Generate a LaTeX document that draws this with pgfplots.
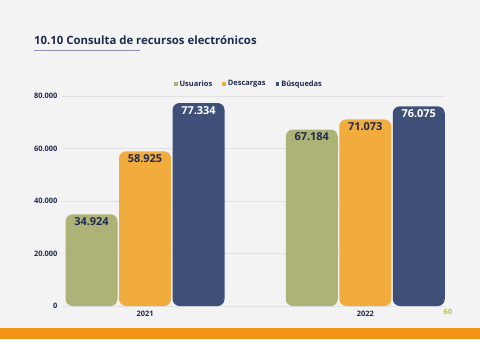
\documentclass[border=0pt]{standalone}
\usepackage{fontspec}
\setmainfont{Open Sans}
\usepackage{pgfplots}
\usepackage{pgfplotstable}
\pgfplotsset{compat=1.18}
\definecolor{bg}{HTML}{F3F3F4}
\definecolor{ink}{HTML}{1F2B4D}
\definecolor{cg}{HTML}{ADB277}
\definecolor{co}{HTML}{F2AB3D}
\definecolor{cn}{HTML}{3E5078}
\definecolor{stripe}{HTML}{F39313}
\definecolor{gridc}{HTML}{E1E1E4}
\definecolor{pgnum}{HTML}{B8C24A}
\definecolor{uline}{HTML}{8C95B5}

\pgfplotstableread{
x y lab
0 34924 34.924
1 67184 67.184
}\tusu
\pgfplotstableread{
x y lab
0 58925 58.925
1 71073 71.073
}\tdes
\pgfplotstableread{
x y lab
0 77334 77.334
1 76075 76.075
}\tbus

\begin{document}
\begin{tikzpicture}[x=1bp,y=1bp]
\fill[bg] (0,0) rectangle (480,339);
\useasboundingbox (0,0) rectangle (480,339);
\fill[stripe] (0,0) rectangle (480,11);
\node[anchor=west, font=\bfseries\fontsize{11.4}{14}\selectfont, text=ink, inner sep=0] at (34,299) {10.10 Consulta de recursos electrónicos};
\draw[uline, line width=0.8bp] (34,289) -- (140,289);
\node[font=\bfseries\fontsize{7.5}{9}\selectfont, text=pgnum, inner sep=0] at (448,27) {60};
\begin{axis}[
  at={(62bp,33bp)}, anchor=south west, scale only axis,
  width=383bp, height=210bp,
  xmin=-0.377, xmax=1.362, ymin=0, ymax=80000,
  y coord trafo/.code={\begingroup\pgfkeys{/pgf/fpu=true,/pgf/fpu/output format=fixed}\pgfmathparse{#1+6000}\pgfmathsmuggle\pgfmathresult\endgroup},
  y coord inv trafo/.code={\begingroup\pgfkeys{/pgf/fpu=true,/pgf/fpu/output format=fixed}\pgfmathparse{#1-6000}\pgfmathsmuggle\pgfmathresult\endgroup},
  scaled y ticks=false,
  axis line style={draw=none},
  ymajorgrids, grid style={gridc, line width=0.6bp},
  ytick={0,20000,40000,60000,80000},
  yticklabels={0,20.000,40.000,60.000,80.000},
  xtick={0,1}, xticklabels={2021,2022},
  major tick length=0pt,
  tick label style={font=\bfseries\fontsize{7.5}{9}\selectfont, text=ink},
  yticklabel style={xshift=-1bp},
  xticklabel style={yshift=-2bp},
  ybar=1.5bp, bar width=52bp,
  point meta=explicit symbolic,
  nodes near coords,
  nodes near coords style={anchor=north, yshift=-1bp, font=\bfseries\fontsize{11}{13}\selectfont, inner sep=2bp},
  every axis plot/.append style={draw=none, rounded corners=7bp},
  legend columns=3,
  legend style={at={(0.488,1.057)}, anchor=center, draw=none, fill=none,
    font=\bfseries\fontsize{7.5}{9}\selectfont, text=ink,
    /tikz/every even column/.append style={column sep=8bp}},
  legend image code/.code={\fill[#1, draw=none, rounded corners=0pt] (0bp,-1.8bp) rectangle (3.6bp,1.8bp);},
]
\addplot[fill=cg, nodes near coords style={text=ink}] table[x=x,y=y,meta=lab]{\tusu};
\addplot[fill=co, nodes near coords style={text=ink}] table[x=x,y=y,meta=lab]{\tdes};
\addplot[fill=cn, nodes near coords style={text=white}] table[x=x,y=y,meta=lab]{\tbus};
\legend{Usuarios,Descargas,Búsquedas}
\end{axis}
\end{tikzpicture}
\end{document}
